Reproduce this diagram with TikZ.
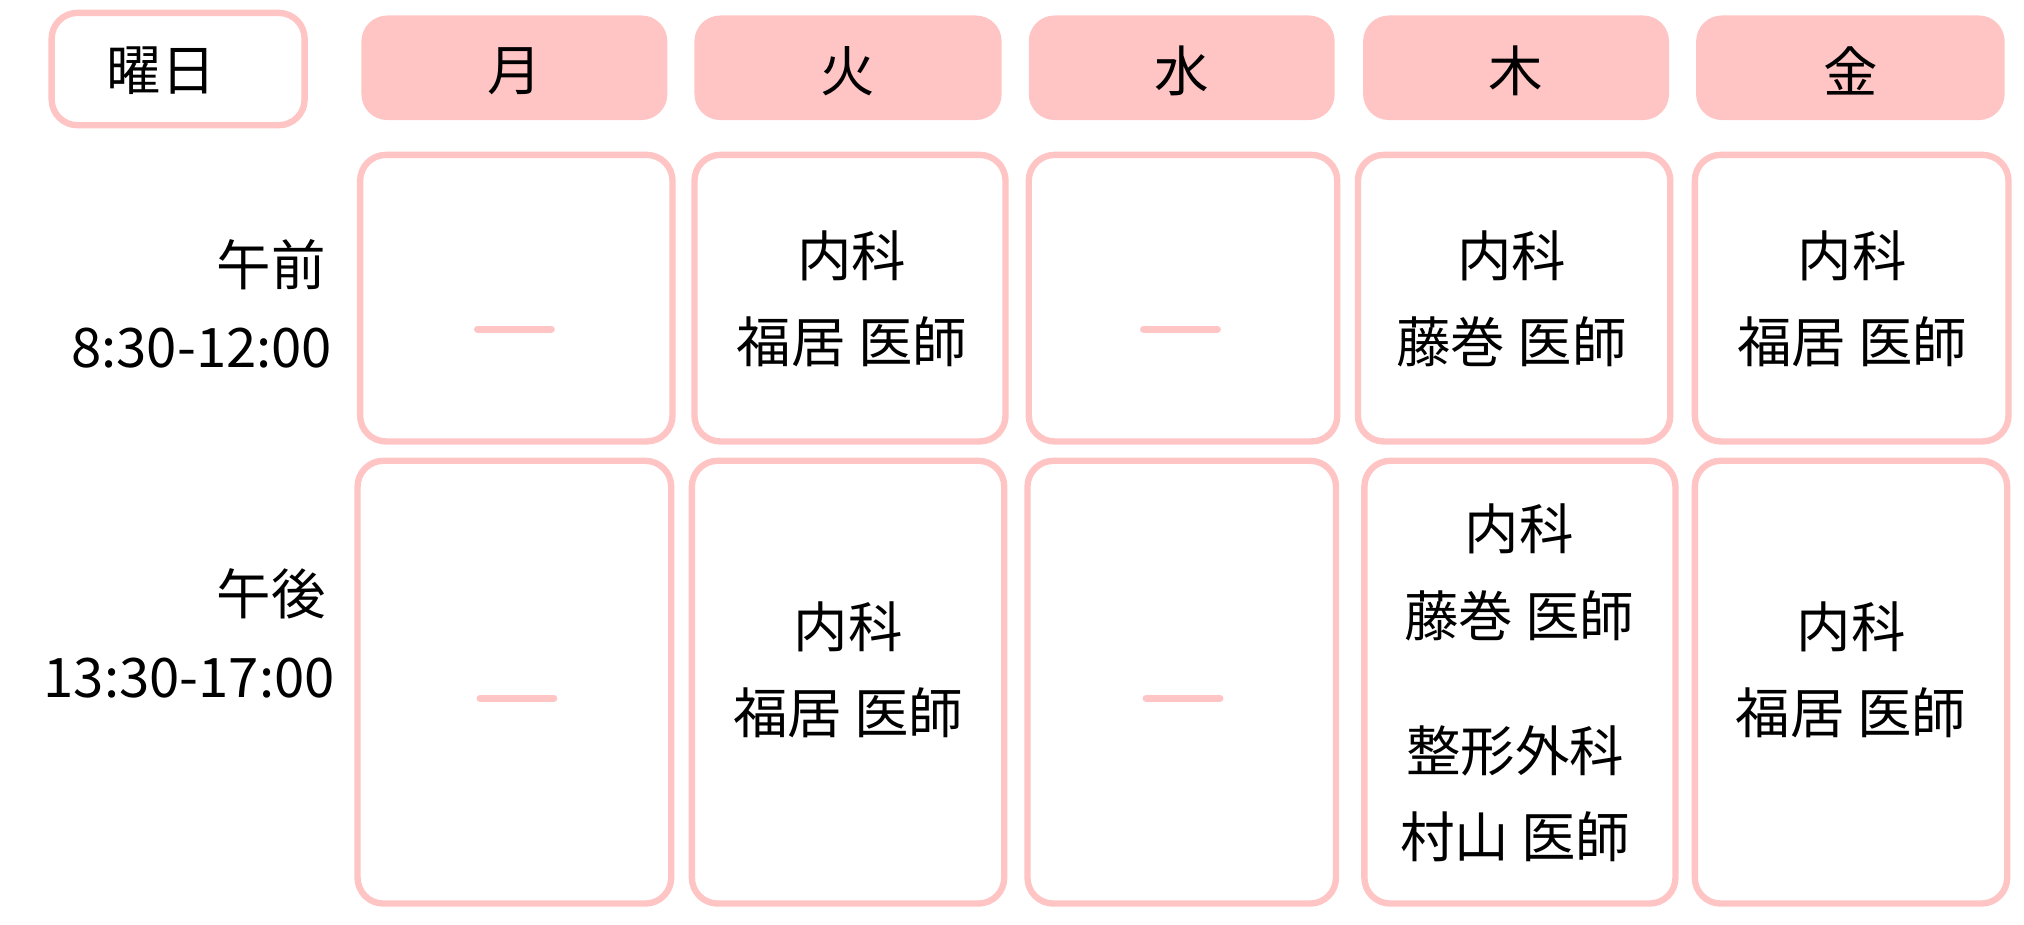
\documentclass[tikz,border=0pt]{standalone}
\usepackage{fontspec}
\setmainfont{Noto Sans CJK JP}
\definecolor{pk}{HTML}{FFC4C4}
\begin{document}
\begin{tikzpicture}[x=0.01cm,y=-0.01cm,
  cell/.style={draw=pk,line width=1.4pt,rounded corners=0.2cm,fill=white},
  head/.style={fill=pk,rounded corners=0.2cm},
  txt/.style={font=\fontsize{12pt}{14pt}\selectfont,inner sep=0pt},
  dsh/.style={draw=pk,line width=1.6pt,line cap=round}]
\useasboundingbox (0,0) rectangle (1568,716);
\draw[cell] (40,10) rectangle (236,97);
\node[txt] (yb) at (125,55) {曜日};
\foreach \a/\b/\t/\n in {280/517/月/d1,538/776/火/d2,797/1034/水/d3,1056/1293/木/d4,1314/1553/金/d5}{
  \fill[head] (\a,12) rectangle (\b,93);
  \node[txt] (\n) at ({(\a+\b)/2},55) {\t};
}
\foreach \a/\b in {279/521,538/779,797/1036,1052/1294,1313/1556}
  \draw[cell] (\a,120) rectangle (\b,342);
\foreach \a/\b in {277/520,536/778,796/1035,1057/1298,1313/1555}
  \draw[cell] (\a,357) rectangle (\b,700);
\node[txt,anchor=east] (am1) at (253,205) {午前};
\node[txt,anchor=east] (am2) at (258,270) {8:30-12:00};
\node[txt,anchor=east] (pm1) at (253,460) {午後};
\node[txt,anchor=east] (pm2) at (260,525) {13:30-17:00};
\draw[dsh] (370,255) -- (427,255);
\draw[dsh] (886,255) -- (943,255);
\draw[dsh] (372,541) -- (429,541);
\draw[dsh] (888,541) -- (945,541);
\node[txt] (t1a) at (660,198) {内科};
\node[txt] (t1b) at (660,265) {福居\ 医師};
\node[txt] (r1a) at (1171,198) {内科};
\node[txt] (r1b) at (1171,265) {藤巻\ 医師};
\node[txt] (f1a) at (1435,198) {内科};
\node[txt] (f1b) at (1435,265) {福居\ 医師};
\node[txt] (t2a) at (657,486) {内科};
\node[txt] (t2b) at (657,552) {福居\ 医師};
\node[txt] (r2a) at (1177,410) {内科};
\node[txt] (r2b) at (1177,477) {藤巻\ 医師};
\node[txt] (r2c) at (1174,582) {整形外科};
\node[txt] (r2d) at (1174,648) {村山\ 医師};
\node[txt] (f2a) at (1434,486) {内科};
\node[txt] (f2b) at (1434,552) {福居\ 医師};
\end{tikzpicture}
\end{document}
